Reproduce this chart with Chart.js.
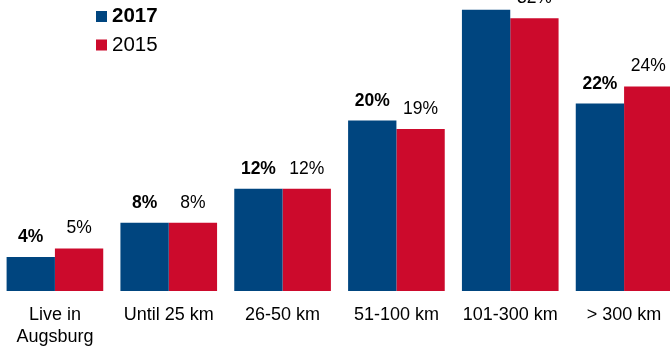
<!DOCTYPE html>
<html>
<head>
<meta charset="utf-8">
<script src="https://cdn.jsdelivr.net/npm/chart.js@4/dist/chart.umd.min.js"></script>
<style>
  html, body { margin: 0; padding: 0; background: #fff; overflow: hidden; width: 670px; height: 350px; }
  #wrap { position: absolute; left: -2px; top: 0; width: 683px; height: 350px; }
</style>
</head>
<body>
<div id="wrap"><canvas id="chart"></canvas></div>
<script>
const categories = [["Live in", "Augsburg"], "Until 25 km", "26-50 km", "51-100 km", "101-300 km", "> 300 km"];
const values2017 = [4, 8, 12, 20, 33, 22];
const values2015 = [5, 8, 12, 19, 32, 24];
const seriesNames = ["2017", "2015"];
const seriesColors = ["#00457F", "#CC0A2C"];
const yMax = 34.15;

const FONT = "'Liberation Sans', Arial, sans-serif";

// percent labels above each bar (2017 bold, 2015 regular)
const valueLabels = {
  id: "valueLabels",
  afterDatasetsDraw(chart) {
    const ctx = chart.ctx;
    ctx.save();
    ctx.fillStyle = "#000";
    ctx.textAlign = "center";
    ctx.textBaseline = "alphabetic";
    chart.data.datasets.forEach((ds, i) => {
      ctx.font = (i === 0 ? "bold " : "") + "17.5px " + FONT;
      chart.getDatasetMeta(i).data.forEach((bar, j) => {
        ctx.fillText(ds.data[j] + "%", bar.x, bar.y - 15);
      });
    });
    ctx.restore();
  }
};

// legend drawn top-left
const cornerLegend = {
  id: "cornerLegend",
  afterDraw(chart) {
    const ctx = chart.ctx;
    ctx.save();
    ctx.textAlign = "left";
    ctx.textBaseline = "alphabetic";
    chart.data.datasets.forEach((ds, i) => {
      const y = 11 + i * 28.5;
      ctx.fillStyle = ds.backgroundColor;
      ctx.fillRect(98, y, 11, 11);
      ctx.fillStyle = "#000";
      ctx.font = (i === 0 ? "bold " : "") + "20.5px " + FONT;
      ctx.fillText(ds.label, 114, y + 11);
    });
    ctx.restore();
  }
};

new Chart(document.getElementById("chart"), {
  type: "bar",
  data: {
    labels: categories,
    datasets: [
      { label: seriesNames[0], data: values2017, backgroundColor: seriesColors[0] },
      { label: seriesNames[1], data: values2015, backgroundColor: seriesColors[1] }
    ]
  },
  options: {
    responsive: true,
    maintainAspectRatio: false,
    animation: false,
    layout: { padding: 0 },
    datasets: { bar: { categoryPercentage: 0.849, barPercentage: 1 } },
    plugins: { legend: { display: false }, tooltip: { enabled: false } },
    scales: {
      x: {
        grid: { display: false, drawTicks: false },
        border: { display: false },
        ticks: {
          color: "#000",
          font: { family: FONT, size: 18, lineHeight: 1.17 },
          padding: 14,
          maxRotation: 0,
          autoSkip: false
        },
        afterFit(scale) { scale.height = 59; }
      },
      y: { display: false, min: 0, max: yMax }
    }
  },
  plugins: [valueLabels, cornerLegend]
});
</script>
</body>
</html>
